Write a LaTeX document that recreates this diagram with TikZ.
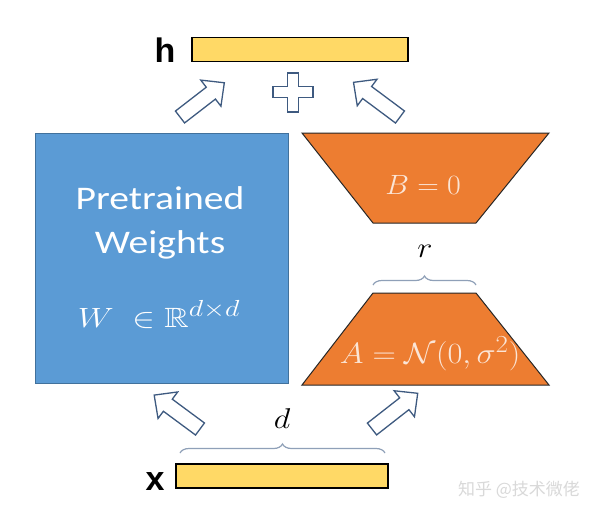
\documentclass[tikz,border=0pt]{standalone}
\usepackage{amsmath,amssymb}
\usepackage{graphicx}
\usepackage{fontspec}
\setmainfont{Carlito}
\newfontfamily\labelfont{Liberation Sans}
\newfontfamily\cjk{Noto Sans CJK SC}
\usetikzlibrary{decorations.pathreplacing}
\definecolor{wblue}{HTML}{5B9BD5}
\definecolor{wblueline}{HTML}{41719C}
\definecolor{lorange}{HTML}{ED7D31}
\definecolor{ybar}{HTML}{FFD966}
\definecolor{cream}{HTML}{FBE5D6}
\definecolor{arrline}{HTML}{3E5A80}
\definecolor{bracegray}{HTML}{8FA0B8}
\newcommand\blockarr[4]{%
 \begin{scope}[shift={(#1,#2)}, rotate=#3]
 \draw[blockarrow] (0,-7.5) -- (#4-17,-7.5) -- (#4-17,-16.5) -- (#4,0) -- (#4-17,16.5) -- (#4-17,7.5) -- (0,7.5) -- cycle;
 \end{scope}}
\begin{document}
\begin{tikzpicture}[x=1pt,y=-1pt,
 barbox/.style={draw=black, line width=1.1pt, fill=ybar, inner sep=0pt},
 blockarrow/.style={draw=arrline, line width=1.3pt, fill=white, line join=miter},
 bracestyle/.style={draw=bracegray, line width=1.2pt, decorate, decoration={brace, amplitude=9pt}},
 lbl/.style={font=\labelfont\bfseries\fontsize{34}{34}\selectfont, anchor=base, inner sep=0pt},
 wtext/.style={white, font=\fontsize{33}{33}\selectfont, anchor=base, inner sep=0pt},
 mtext/.style={cream, font=\fontsize{24.88}{26}\selectfont, anchor=base, inner sep=0pt},
 dimtext/.style={black, font=\fontsize{24.88}{26}\selectfont, anchor=base, inner sep=0pt},
 trap/.style={fill=lorange, draw=black!85, line width=1pt, line join=miter}]
\useasboundingbox (0,0) rectangle (600,512);
\fill[white] (0,0) rectangle (600,512);
% h bar
\node[barbox, minimum width=216pt, minimum height=24pt] (hbar) at (300,49.5) {};
\node[lbl] (hlab) at (165,62) {h};
% arrows and plus at top
\blockarr{180}{117}{37.7}{56}
\blockarr{400}{117}{143.3}{58}
\draw[blockarrow] (287.5,73) -- (298.5,73) -- (298.5,86.5) -- (313,86.5) -- (313,97.5) -- (298.5,97.5) -- (298.5,112) -- (287.5,112) -- (287.5,97.5) -- (273,97.5) -- (273,86.5) -- (287.5,86.5) -- cycle;
% pretrained weights
\node[draw=wblueline, fill=wblue, line width=1pt, minimum width=253pt, minimum height=250pt, inner sep=0pt] (W) at (161.5,258) {};
\node[wtext] (pt) at (160,209) {\scalebox{1.2}[1]{Pretrained}};
\node[wtext] (wt) at (160,253) {\scalebox{1.2}[1]{Weights}};
\node[mtext, white] (wm) at (159,327) {\scalebox{1.36}[1.12]{$W\;\in\mathbb{R}^{d\times d}$}};
% B
\draw[trap] (302,133) coordinate (b1) -- (549,133) coordinate (b2) -- (476,223) coordinate (b3) -- (373,223) coordinate (b4) -- cycle;
\node[mtext] (btext) at (423,194) {\scalebox{1.2}[1.12]{$B=0$}};
% r brace
\coordinate (rl) at (373,285);
\coordinate (rr) at (476,285);
\draw[bracestyle] (rl) -- (rr);
\node[dimtext] (rlab) at (425,257) {\scalebox{1.3}[1.15]{$r$}};
% A
\draw[trap] (373,293) coordinate (a1) -- (476,293) coordinate (a2) -- (549,385) coordinate (a3) -- (302,385) coordinate (a4) -- cycle;
\node[mtext] (atext) at (430,363) {\scalebox{1.3}[1.18]{$A=\mathcal{N}(0,\sigma^2)$}};
% lower arrows
\blockarr{200}{429}{143.5}{57}
\blockarr{372}{429}{38}{58}
% d brace
\coordinate (dl) at (180,453);
\coordinate (dr) at (385,453);
\draw[bracestyle] (dl) -- (dr);
\node[dimtext] (dlab) at (282,428) {\scalebox{1.3}[1.15]{$d$}};
% x bar
\node[barbox, minimum width=212pt, minimum height=24pt] (xbar) at (282,476) {};
\node[lbl] (xlab) at (155,490) {x};
% watermark
\node[anchor=base, inner sep=0pt, text=gray!30, font=\cjk\fontsize{17}{17}\selectfont] (wmark) at (519,495) {知乎 @技术微佬};
\end{tikzpicture}
\end{document}
